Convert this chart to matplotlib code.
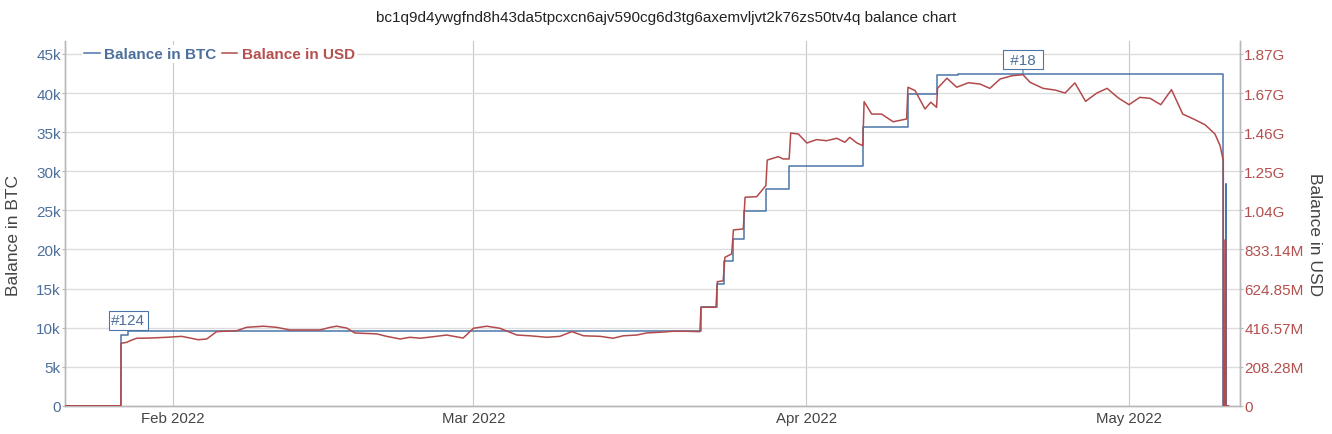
import matplotlib
matplotlib.use("Agg")
import matplotlib.pyplot as plt
import pandas as pd

plt.rcParams['font.family'] = ['Liberation Sans', 'DejaVu Sans']

title = "bc1q9d4ywgfnd8h43da5tpcxcn6ajv590cg6d3tg6axemvljvt2k76zs50tv4q balance chart"

# Balance in BTC (step series)
btc_dates = ['2022-01-22 00:00', '2022-01-27 04:30', '2022-01-27 21:00', '2022-03-22 04:00',
             '2022-03-23 15:30', '2022-03-24 08:30', '2022-03-25 03:20', '2022-03-26 05:15',
             '2022-03-28 05:45', '2022-03-30 09:50', '2022-04-06 07:10', '2022-04-10 10:30',
             '2022-04-13 03:20', '2022-04-15 03:30', '2022-05-09 19:40', '2022-05-10 01:00',
             '2022-05-10 02:20', '2022-05-10 07:00']
btc_values = [0, 9100, 9600, 12600, 15580, 18480, 21330, 24950, 27720, 30700, 35690, 39870,
              42340, 42430, 0, 28300, 0, 0]

# Balance in USD (millions)
usd_dates = ['2022-01-22 00:00', '2022-01-27 04:00', '2022-01-27 04:30', '2022-01-27 17:00',
             '2022-01-28 04:00', '2022-01-28 16:00', '2022-01-29 21:00', '2022-01-31 11:00',
             '2022-02-01 20:00', '2022-02-02 15:00', '2022-02-03 09:00', '2022-02-04 04:00',
             '2022-02-05 02:00', '2022-02-06 23:00', '2022-02-07 21:00', '2022-02-09 11:00',
             '2022-02-10 16:00', '2022-02-11 22:00', '2022-02-14 17:00', '2022-02-15 16:00',
             '2022-02-16 06:00', '2022-02-17 05:00', '2022-02-17 23:00', '2022-02-20 00:00',
             '2022-02-20 22:00', '2022-02-22 04:00', '2022-02-23 02:00', '2022-02-24 01:00',
             '2022-02-25 06:00', '2022-02-26 12:00', '2022-02-28 01:00', '2022-03-01 00:00',
             '2022-03-02 06:00', '2022-03-03 11:00', '2022-03-05 01:00', '2022-03-06 06:00',
             '2022-03-07 20:00', '2022-03-09 01:00', '2022-03-10 04:00', '2022-03-11 06:00',
             '2022-03-12 19:00', '2022-03-14 00:00', '2022-03-14 23:00', '2022-03-16 05:00',
             '2022-03-17 03:00', '2022-03-18 09:00', '2022-03-19 15:00', '2022-03-20 21:00',
             '2022-03-22 02:00', '2022-03-22 04:30', '2022-03-23 14:00', '2022-03-23 17:00',
             '2022-03-24 06:00', '2022-03-24 10:00', '2022-03-25 01:00', '2022-03-25 05:00',
             '2022-03-26 03:00', '2022-03-26 07:00', '2022-03-27 09:00', '2022-03-28 05:30',
             '2022-03-28 08:30', '2022-03-29 09:00', '2022-03-29 20:00', '2022-03-30 09:30',
             '2022-03-30 13:00', '2022-03-31 06:00', '2022-04-01 01:00', '2022-04-01 23:00',
             '2022-04-02 21:00', '2022-04-03 20:00', '2022-04-04 14:00', '2022-04-05 01:00',
             '2022-04-05 17:00', '2022-04-06 06:00', '2022-04-06 09:00', '2022-04-07 02:00',
             '2022-04-08 00:00', '2022-04-09 02:00', '2022-04-10 08:00', '2022-04-10 11:00',
             '2022-04-11 03:00', '2022-04-12 01:00', '2022-04-12 14:00', '2022-04-13 03:00',
             '2022-04-13 05:00', '2022-04-14 02:00', '2022-04-15 00:00', '2022-04-16 02:00',
             '2022-04-17 04:00', '2022-04-18 02:00', '2022-04-19 01:00', '2022-04-20 03:00',
             '2022-04-21 04:00', '2022-04-21 20:00', '2022-04-23 01:00', '2022-04-24 04:00',
             '2022-04-25 02:00', '2022-04-26 00:00', '2022-04-27 00:00', '2022-04-28 01:00',
             '2022-04-29 00:00', '2022-04-30 01:00', '2022-05-01 01:00', '2022-05-02 01:00',
             '2022-05-03 00:00', '2022-05-04 00:00', '2022-05-05 00:00', '2022-05-06 01:00',
             '2022-05-07 01:00', '2022-05-08 03:00', '2022-05-09 01:00', '2022-05-09 12:30',
             '2022-05-09 19:40', '2022-05-09 19:55', '2022-05-09 23:15', '2022-05-09 23:30',
             '2022-05-10 01:10', '2022-05-10 01:25', '2022-05-10 07:00']
usd_values_m = [0, 0, 333, 338, 350, 360, 361, 365, 370, 361, 352, 356, 395, 400, 418, 424,
                418, 404, 404, 418, 424, 414, 388, 383, 370, 356, 365, 360, 368, 377, 361, 413,
                424, 413, 377, 373, 365, 370, 395, 373, 370, 360, 373, 377, 388, 392, 397, 397,
                395, 525, 525, 661, 666, 791, 809, 937, 942, 1111, 1114, 1173, 1309, 1327, 1315,
                1315, 1453, 1448, 1400, 1418, 1412, 1425, 1404, 1430, 1400, 1386, 1620, 1554,
                1554, 1513, 1528, 1697, 1679, 1581, 1617, 1590, 1691, 1745, 1697, 1721, 1714,
                1691, 1741, 1758, 1764, 1723, 1691, 1682, 1666, 1720, 1622, 1666, 1691, 1640,
                1604, 1643, 1638, 1604, 1684, 1554, 1528, 1497, 1448, 1386, 1306, 0, 0, 883,
                883, 0, 0]

btc_ticks = [0, 5000, 10000, 15000, 20000, 25000, 30000, 35000, 40000, 45000]
btc_tick_labels = ['0', '5k', '10k', '15k', '20k', '25k', '30k', '35k', '40k', '45k']
usd_tick_labels = ['0', '208.28M', '416.57M', '624.85M', '833.14M', '1.04G', '1.25G',
                   '1.46G', '1.67G', '1.87G']
usd_per_btc = 41657.0  # right-axis scale relative to left axis

month_ticks = ['2022-02-01', '2022-03-01', '2022-04-01', '2022-05-01']
month_labels = ['Feb 2022', 'Mar 2022', 'Apr 2022', 'May 2022']

# (text, date, BTC value, vertical offset in points)
annotations = [('#124', '2022-01-27 21:00', 9600, 2.6), (' #18 ', '2022-04-21 04:00', 42430, 5.3)]

BLUE = '#4a77a8'
BLUE_TXT = '#4d6f9b'
RED = '#b24a4c'
RED_TXT = '#b4504f'
GRID = '#dcdcdc'
AXIS = '#b8b8b8'

W, H = 1332, 435
fig = plt.figure(figsize=(W / 100, H / 100), dpi=100)
L, R, T, B = 65, 1240, 42, 406.8
ax = fig.add_axes([L / W, 1 - B / H, (R - L) / W, (B - T) / H])
ax2 = ax.twinx()

bd = pd.to_datetime(btc_dates)
ud = pd.to_datetime(usd_dates)

ax.plot(bd, btc_values, color=BLUE, lw=1.1, drawstyle='steps-post', zorder=3, label='Balance in BTC')
ax2.plot(ud, [v * 1e6 for v in usd_values_m], color=RED, lw=1.1, zorder=3, label='Balance in USD')

ymax = 46650
ax.set_ylim(0, ymax)
ax2.set_ylim(0, ymax * usd_per_btc)
ax.set_xlim(pd.Timestamp('2022-01-21 23:15'), pd.Timestamp('2022-05-11 09:00'))

ax.set_yticks(btc_ticks)
ax.set_yticklabels(btc_tick_labels)
ax2.set_yticks([t * usd_per_btc for t in btc_ticks])
ax2.set_yticklabels(usd_tick_labels)
ax.set_xticks(pd.to_datetime(month_ticks))
ax.set_xticklabels(month_labels)

ax.grid(True, axis='y', color=GRID, lw=1.0, zorder=0)
ax.xaxis.grid(True, color='#c8c8c8', lw=0.8)

for a in (ax, ax2):
    a.spines['top'].set_visible(False)
    for s in ('left', 'right', 'bottom'):
        a.spines[s].set_color(AXIS)
        a.spines[s].set_linewidth(1.0)

ax.tick_params(axis='y', colors=AXIS, labelcolor=BLUE_TXT, labelsize=11.0, length=2, pad=1)
ax2.tick_params(axis='y', colors=AXIS, labelcolor=RED_TXT, labelsize=11.0, length=2, pad=1)
ax.tick_params(axis='x', length=0, labelsize=10.8, labelcolor='#444444', pad=4)

fig.text(14 / W, 1 - 235 / H, 'Balance in BTC', rotation=90, ha='center', va='center',
         fontsize=12.5, color='#444444')
fig.text(1314 / W, 1 - 235 / H, 'Balance in USD', rotation=270, ha='center', va='center',
         fontsize=12.5, color='#444444')

fig.text(0.5, 1 - 18 / H, title, ha='center', va='center', fontsize=11, color='#222222')

h1, l1 = ax.get_legend_handles_labels()
h2, l2 = ax2.get_legend_handles_labels()
leg = ax2.legend(h1 + h2, l1 + l2, loc='center left', bbox_to_anchor=(0.0145, 0.964), ncol=2,
                 frameon=True, fancybox=False, framealpha=1, edgecolor='none', facecolor='white',
                 handlelength=1.0, handletextpad=0.3, columnspacing=0.35, borderpad=0.15,
                 borderaxespad=0, prop={'weight': 'bold', 'size': 11.0})
for txt, c in zip(leg.get_texts(), (BLUE_TXT, RED_TXT)):
    txt.set_color(c)
leg.set_zorder(10)

for text, d, v, off in annotations:
    ax2.annotate(text, xy=(pd.Timestamp(d), v * usd_per_btc), xytext=(0, off),
                 textcoords='offset points', ha='center', va='bottom', fontsize=11,
                 color=BLUE_TXT, zorder=6,
                 bbox=dict(boxstyle='square,pad=0.17', fc='white', ec=BLUE, lw=0.8),
                 arrowprops=dict(arrowstyle='-', color=BLUE, lw=0.8, shrinkA=0, shrinkB=0))

fig.savefig('out.png', dpi=100)
